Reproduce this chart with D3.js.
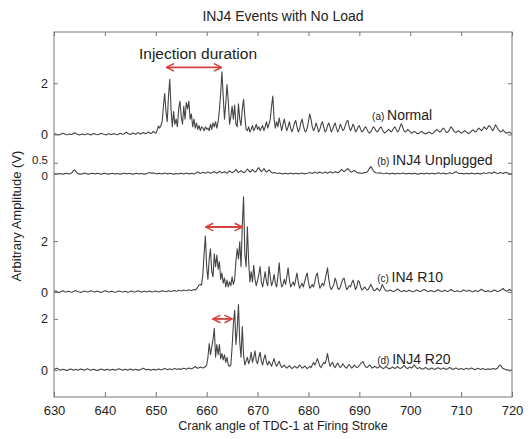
<!DOCTYPE html>
<html>
<head>
<meta charset="utf-8">
<script src="https://cdn.jsdelivr.net/npm/d3@7"></script>
<style>
  body { margin: 0; background: #fff; }
  text { font-family: "Liberation Sans", Arial, sans-serif; fill: #222; }
</style>
</head>
<body>
<script>
// sampling grid: 630..720 deg, step 0.25
const angles = d3.range(0, 361).map(i => 630 + i * 0.25);

// (a) Normal
const normal = [
  0.02,0.03,0.01,0.0,-0.02,0.0,0.03,0.05,0.03,0.01,-0.01,0.0,0.02,0.01,0.0,0.03,0.07,0.05,0.02,0.0,
  -0.02,0.0,0.02,0.01,-0.01,0.0,0.03,0.02,0.0,-0.02,0.01,0.04,0.03,0.0,-0.01,0.0,0.02,0.05,0.03,0.01,
  0.0,-0.02,0.01,0.03,0.02,0.0,0.01,0.04,0.02,0.0,-0.01,0.02,0.05,0.03,0.01,0.02,0.06,0.09,0.05,0.02,
  0.0,0.03,0.06,0.04,0.01,0.03,0.07,0.05,0.02,0.04,0.08,0.06,0.03,0.05,0.1,0.07,0.04,0.06,0.12,0.08,
  0.05,0.15,0.33,0.25,0.35,0.5,1.1,1.6,0.9,0.5,1.5,2.15,1.0,0.3,0.9,0.4,0.6,0.3,1.0,1.3,
  0.7,0.4,1.1,0.6,1.25,1.0,1.3,0.6,0.8,0.3,0.6,0.25,0.45,0.2,0.35,0.15,0.3,0.25,0.15,0.3,
  0.2,0.25,0.15,0.4,0.2,0.45,0.3,0.5,0.25,0.5,0.95,1.6,2.45,1.5,0.6,1.2,1.95,1.3,0.4,0.7,
  1.1,0.6,1.15,0.4,0.3,1.2,0.6,0.35,1.0,1.37,0.7,0.2,0.15,0.3,0.1,0.2,0.35,0.15,0.25,0.4,
  0.2,0.3,0.15,0.25,0.35,0.15,0.3,0.5,0.25,0.4,0.6,1.1,1.5,0.6,0.25,0.5,0.3,0.65,0.4,0.15,
  0.4,0.6,0.35,0.15,0.3,0.5,0.25,0.1,0.25,0.45,0.55,0.3,0.1,0.2,0.45,0.6,0.35,0.15,0.1,0.25,
  0.5,0.8,0.6,0.3,0.15,0.25,0.45,0.3,0.1,0.2,0.4,0.5,0.3,0.1,0.15,0.35,0.45,0.3,0.1,0.2,
  0.35,0.45,0.25,0.1,0.2,0.4,0.3,0.15,0.2,0.35,0.5,0.55,0.3,0.15,0.25,0.4,0.3,0.1,0.15,0.3,
  0.35,0.2,0.1,0.15,0.25,0.3,0.2,0.1,0.05,0.1,0.2,0.3,0.25,0.15,0.1,0.15,0.25,0.3,0.2,0.1,
  0.05,0.1,0.15,0.2,0.15,0.1,0.15,0.25,0.3,0.2,0.1,0.15,0.3,0.42,0.3,0.15,0.1,0.12,0.2,0.15,
  0.1,0.05,0.08,0.12,0.1,0.05,0.03,0.05,0.1,0.12,0.08,0.05,0.02,0.04,0.08,0.1,0.06,0.03,0.05,0.1,
  0.15,0.2,0.15,0.1,0.12,0.2,0.25,0.2,0.1,0.08,0.12,0.2,0.3,0.25,0.15,0.1,0.08,0.12,0.15,0.1,
  0.05,0.08,0.12,0.15,0.1,0.06,0.04,0.08,0.12,0.18,0.15,0.1,0.12,0.2,0.25,0.2,0.15,0.2,0.3,0.25,
  0.2,0.28,0.35,0.3,0.2,0.15,0.25,0.38,0.3,0.2,0.15,0.1,0.12,0.18,0.12,0.08,0.05,0.08,0.1,0.05,
  0.03
];

// (b) INJ4 Unplugged
const unplugged = [
  0.0,0.01,-0.01,0.0,0.02,0.01,0.0,-0.01,0.0,0.02,0.03,0.01,0.0,0.01,0.05,0.12,0.18,0.12,0.05,0.01,
  0.0,-0.01,0.0,0.02,0.04,0.02,0.0,-0.01,0.0,0.02,0.03,0.02,0.0,0.01,0.03,0.02,0.0,-0.01,0.0,0.02,
  0.03,0.01,0.0,-0.01,0.0,0.02,0.03,0.01,0.0,0.01,0.02,0.0,-0.01,0.0,0.02,0.04,0.02,0.0,0.01,0.03,
  0.01,0.0,-0.01,0.0,0.02,0.03,0.01,0.0,0.01,0.02,0.0,-0.01,0.0,0.02,0.04,0.06,0.04,0.02,0.05,0.03,
  0.01,0.0,0.02,0.03,0.01,0.0,0.02,0.04,0.02,0.0,0.01,0.03,0.02,0.0,-0.01,0.0,0.02,0.01,0.0,0.02,
  0.03,0.01,0.0,0.02,0.04,0.02,0.0,0.01,0.03,0.02,0.0,0.02,0.05,0.08,0.05,0.02,0.04,0.07,0.05,0.03,
  0.05,0.09,0.06,0.03,0.05,0.08,0.1,0.06,0.03,0.06,0.12,0.08,0.04,0.07,0.1,0.06,0.03,0.08,0.14,0.09,
  0.05,0.08,0.12,0.2,0.12,0.06,0.1,0.15,0.1,0.05,0.08,0.14,0.22,0.15,0.08,0.12,0.2,0.14,0.08,0.12,
  0.22,0.28,0.18,0.1,0.15,0.24,0.16,0.08,0.12,0.18,0.12,0.06,0.04,0.06,0.05,0.03,0.02,0.04,0.03,0.01,
  0.0,0.02,0.03,0.01,0.0,0.02,0.04,0.02,0.0,0.01,0.03,0.02,0.0,0.01,0.03,0.04,0.02,0.0,0.02,0.03,
  0.04,0.06,0.04,0.02,0.05,0.08,0.05,0.03,0.06,0.08,0.05,0.03,0.05,0.09,0.06,0.03,0.06,0.1,0.07,0.04,
  0.06,0.1,0.08,0.05,0.08,0.14,0.2,0.15,0.1,0.14,0.2,0.24,0.18,0.1,0.08,0.12,0.16,0.12,0.06,0.04,
  0.05,0.04,0.02,0.04,0.06,0.05,0.08,0.15,0.25,0.33,0.25,0.14,0.08,0.05,0.04,0.03,0.05,0.04,0.02,0.01,
  0.02,0.04,0.03,0.01,0.0,0.02,0.03,0.02,0.0,0.01,0.03,0.02,0.01,0.02,0.04,0.03,0.01,0.0,0.02,0.03,
  0.02,0.0,0.01,0.03,0.02,0.0,-0.01,0.0,0.02,0.03,0.01,0.0,0.02,0.04,0.02,0.0,0.01,0.03,0.02,0.0,
  0.01,0.03,0.05,0.03,0.01,0.02,0.04,0.02,0.0,0.02,0.03,0.05,0.03,0.02,0.04,0.08,0.1,0.06,0.03,0.02,
  0.03,0.02,0.0,0.01,0.03,0.02,0.0,0.02,0.04,0.03,0.01,0.0,0.02,0.03,0.02,0.0,0.01,0.03,0.05,0.03,
  0.02,0.04,0.06,0.04,0.02,0.05,0.08,0.06,0.03,0.02,0.04,0.06,0.04,0.02,0.05,0.07,0.05,0.02,0.0,0.01,
  0.0
];

// (c) IN4 R10
const r10 = [
  0.02,0.04,0.03,0.0,-0.02,0.0,0.03,0.05,0.02,0.0,0.01,0.03,0.02,0.0,-0.01,0.01,0.04,0.06,0.03,0.01,
  0.0,-0.02,0.0,0.02,0.04,0.02,0.0,0.01,0.03,0.05,0.03,0.01,0.0,0.02,0.04,0.02,0.0,-0.02,0.0,0.03,
  0.05,0.04,0.02,0.0,0.01,0.03,0.02,0.0,-0.01,0.0,0.02,0.04,0.03,0.01,0.0,0.02,0.03,0.01,-0.01,0.0,
  0.02,0.04,0.02,0.0,0.01,0.03,0.05,0.03,0.01,0.0,0.02,0.03,0.01,0.0,0.02,0.04,0.02,0.0,0.01,0.03,
  0.04,0.02,0.0,0.01,0.03,0.05,0.04,0.02,0.01,0.03,0.05,0.04,0.02,0.03,0.06,0.05,0.03,0.04,0.07,0.05,
  0.04,0.06,0.08,0.06,0.05,0.07,0.09,0.07,0.06,0.08,0.1,0.08,0.12,0.2,0.28,0.3,0.28,0.7,1.5,2.2,
  1.0,0.5,1.3,1.7,0.8,0.6,1.5,1.0,1.45,0.9,1.2,0.5,0.75,0.35,0.55,0.2,0.47,0.2,0.4,0.25,
  0.6,0.3,0.5,1.2,1.7,1.3,1.97,1.0,2.6,3.74,1.5,1.0,2.56,1.2,0.4,0.8,0.4,1.05,0.5,0.25,
  0.45,0.7,1.0,0.4,0.2,0.5,0.8,0.4,0.25,1.0,0.6,0.25,0.4,0.7,0.35,0.2,0.6,1.15,0.5,0.2,
  0.3,0.5,0.3,0.6,0.95,0.5,0.2,0.3,0.4,0.25,0.5,0.75,0.4,0.15,0.25,0.35,0.2,0.4,0.6,0.75,
  0.4,0.15,0.2,0.3,0.2,0.4,0.65,0.75,0.4,0.15,0.25,0.35,0.25,0.45,0.7,0.95,0.5,0.2,0.1,0.2,
  0.3,0.55,0.4,0.15,0.1,0.2,0.35,0.5,0.55,0.3,0.1,0.15,0.25,0.2,0.35,0.47,0.3,0.1,0.2,0.45,
  0.4,0.2,0.08,0.12,0.2,0.15,0.08,0.1,0.2,0.3,0.2,0.08,0.05,0.1,0.15,0.1,0.05,0.15,0.3,0.2,
  0.1,0.05,0.03,0.05,0.08,0.06,0.03,0.02,0.05,0.08,0.12,0.08,0.04,0.02,0.03,0.06,0.04,0.02,0.04,0.07,
  0.05,0.02,0.01,0.03,0.05,0.08,0.06,0.03,0.02,0.04,0.08,0.1,0.07,0.04,0.02,0.03,0.06,0.05,0.02,0.01,
  0.03,0.06,0.09,0.06,0.03,0.02,0.04,0.07,0.05,0.02,0.03,0.06,0.1,0.07,0.04,0.02,0.03,0.05,0.03,0.01,
  0.02,0.05,0.08,0.06,0.03,0.04,0.07,0.05,0.02,0.01,0.03,0.06,0.04,0.02,0.04,0.08,0.11,0.07,0.04,0.02,
  0.03,0.05,0.03,0.01,0.02,0.05,0.08,0.06,0.03,0.02,0.04,0.07,0.1,0.14,0.09,0.05,0.03,0.06,0.1,0.07,
  0.05
];

// (d) INJ4 R20
const r20 = [
  0.02,0.05,0.07,0.05,0.02,0.0,0.01,0.03,0.02,0.0,-0.01,0.0,0.02,0.04,0.02,0.0,0.01,0.03,0.01,0.0,
  0.02,0.04,0.03,0.01,0.0,0.02,0.05,0.03,0.01,0.0,0.01,0.03,0.02,0.0,-0.01,0.0,0.02,0.04,0.02,0.01,
  0.0,0.02,0.03,0.01,0.0,0.01,0.03,0.02,0.0,0.01,0.03,0.05,0.03,0.01,0.0,0.02,0.03,0.01,0.0,0.02,
  0.04,0.02,0.0,0.01,0.03,0.02,0.0,0.01,0.02,0.04,0.07,0.05,0.02,0.01,0.03,0.02,0.0,0.01,0.03,0.02,
  0.01,0.02,0.04,0.03,0.01,0.02,0.04,0.06,0.04,0.02,0.03,0.05,0.03,0.02,0.04,0.06,0.04,0.03,0.05,0.04,
  0.03,0.05,0.07,0.05,0.04,0.06,0.08,0.06,0.05,0.07,0.1,0.14,0.1,0.07,0.09,0.12,0.1,0.08,0.1,0.14,
  0.2,0.5,1.04,0.6,0.9,1.2,1.63,0.5,1.0,0.6,1.0,0.45,0.65,0.4,0.6,0.3,0.5,0.2,0.15,0.2,
  0.9,1.8,2.34,1.0,1.6,2.56,1.1,0.5,1.7,0.6,0.2,0.35,0.5,0.25,0.4,0.7,0.3,0.5,0.75,0.35,
  0.25,0.5,0.7,0.35,0.2,0.45,0.6,0.3,0.2,0.35,0.25,0.15,0.3,0.45,0.25,0.15,0.25,0.35,0.2,0.1,
  0.15,0.2,0.12,0.08,0.12,0.18,0.12,0.06,0.1,0.15,0.12,0.08,0.12,0.2,0.15,0.08,0.1,0.16,0.12,0.06,
  0.1,0.15,0.1,0.2,0.3,0.2,0.3,0.45,0.3,0.15,0.1,0.2,0.3,0.25,0.4,0.65,0.35,0.15,0.25,0.3,
  0.15,0.1,0.2,0.28,0.18,0.1,0.15,0.25,0.18,0.1,0.08,0.15,0.22,0.15,0.08,0.12,0.2,0.15,0.1,0.12,
  0.18,0.25,0.3,0.33,0.2,0.12,0.1,0.15,0.2,0.15,0.08,0.1,0.15,0.12,0.08,0.1,0.16,0.12,0.08,0.06,
  0.1,0.14,0.1,0.06,0.05,0.08,0.12,0.09,0.06,0.1,0.14,0.1,0.06,0.08,0.12,0.18,0.14,0.08,0.06,0.1,
  0.12,0.08,0.12,0.2,0.15,0.08,0.06,0.1,0.08,0.05,0.04,0.07,0.1,0.07,0.04,0.03,0.06,0.08,0.05,0.03,
  0.04,0.07,0.09,0.06,0.03,0.05,0.08,0.06,0.03,0.04,0.07,0.1,0.07,0.04,0.03,0.06,0.08,0.05,0.03,0.04,
  0.06,0.04,0.02,0.04,0.07,0.05,0.03,0.05,0.08,0.06,0.03,0.02,0.04,0.07,0.05,0.03,0.04,0.06,0.04,0.02,
  0.03,0.05,0.04,0.02,0.04,0.06,0.05,0.03,0.05,0.1,0.18,0.2,0.12,0.06,0.04,0.02,0.01,0.0,-0.02,0.0,
  -0.01
];

const xTicks = [630, 640, 650, 660, 670, 680, 690, 700, 710, 720];

// stacked sub-axes sharing one frame
const panels = [
  { series: normal,    domain: [-0.8, 4.0],  band: [32, 155],  ticks: [0, 2],   tag: "(a)", name: "Normal",         at: [692.5, 0.58],
    arrow: [652.1, 662.9, 2.62] },
  { series: unplugged, domain: [-0.5, 0.85], band: [155, 185], ticks: [0, 0.5], tag: "(b)", name: "INJ4 Unplugged", at: [693.5, 0.4] },
  { series: r10,       domain: [-0.35, 4.2], band: [185, 301], ticks: [0, 2],   tag: "(c)", name: "IN4 R10",        at: [693.5, 0.4],
    arrow: [659.8, 667.0, 2.55] },
  { series: r20,       domain: [-1.05, 2.7], band: [301, 397], ticks: [0, 2],   tag: "(d)", name: "INJ4 R20",       at: [693.5, 0.23],
    arrow: [661.2, 665.0, 2.0] }
];

const width = 531, height = 439;
const margin = { top: 32, right: 19, bottom: 42, left: 54 };
const iw = width - margin.left - margin.right;

const svg = d3.select("body").append("svg")
  .attr("width", width)
  .attr("height", height);

const x = d3.scaleLinear().domain([630, 720]).range([margin.left, margin.left + iw]);

// arrow heads
svg.append("defs").append("marker")
  .attr("id", "head")
  .attr("viewBox", "0 0 10 10")
  .attr("refX", 9).attr("refY", 5)
  .attr("markerWidth", 5).attr("markerHeight", 5)
  .attr("orient", "auto-start-reverse")
  .attr("markerUnits", "strokeWidth")
  .append("path")
    .attr("d", "M1,1 L9,5 L1,9")
    .attr("fill", "none")
    .attr("stroke", "#d6423c")
    .attr("stroke-width", 1.6);

panels.forEach(p => {
  const y = d3.scaleLinear().domain(p.domain).range([p.band[1], p.band[0]]);
  const pts = angles.map((a, i) => [a, p.series[i]]).filter(d => d[1] !== undefined);

  svg.append("path")
    .datum(pts)
    .attr("fill", "none")
    .attr("stroke", "#454545")
    .attr("stroke-width", 1.1)
    .attr("stroke-linejoin", "round")
    .attr("d", d3.line().x(d => x(d[0])).y(d => y(d[1])));

  const tight = p.ticks.includes(0.5);
  const leftAxis = svg.append("g")
    .attr("transform", `translate(${margin.left},0)`)
    .call(d3.axisLeft(y).tickValues(p.ticks).tickSizeInner(-4).tickSizeOuter(0).tickPadding(6)
      .tickFormat(d3.format("~g")));
  leftAxis.select(".domain").remove();
  leftAxis.selectAll("line").attr("stroke", "#777");
  leftAxis.selectAll("text")
    .attr("font-size", tight ? 11.5 : 12.5)
    .attr("fill", "#222")
    .style("font-family", "Liberation Sans, Arial, sans-serif");
  if (tight) {
    leftAxis.selectAll("text").attr("dy", d => d > 0 ? "0.05em" : "0.5em");
  }

  const rightAxis = svg.append("g")
    .attr("transform", `translate(${margin.left + iw},0)`)
    .call(d3.axisRight(y).tickValues(p.ticks).tickSizeInner(-4).tickSizeOuter(0).tickFormat(""));
  rightAxis.select(".domain").remove();
  rightAxis.selectAll("line").attr("stroke", "#777");

  const lab = svg.append("text")
    .attr("x", x(p.at[0]))
    .attr("y", y(p.at[1]));
  lab.append("tspan").attr("font-size", 10).text(p.tag + " ");
  lab.append("tspan").attr("font-size", 14).text(p.name);

  if (p.arrow) {
    svg.append("line")
      .attr("x1", x(p.arrow[0])).attr("x2", x(p.arrow[1]))
      .attr("y1", y(p.arrow[2])).attr("y2", y(p.arrow[2]))
      .attr("stroke", "#d6423c")
      .attr("stroke-width", 1.9)
      .attr("marker-start", "url(#head)")
      .attr("marker-end", "url(#head)");
  }

  if (p.name === "Normal") {
    svg.append("text")
      .attr("x", x(658.3))
      .attr("y", y(2.93))
      .attr("text-anchor", "middle")
      .attr("font-size", 15.5)
      .text("Injection duration");
  }
});

// frame
svg.append("rect")
  .attr("x", margin.left).attr("y", margin.top)
  .attr("width", iw).attr("height", height - margin.top - margin.bottom)
  .attr("fill", "none")
  .attr("stroke", "#777")
  .attr("stroke-width", 1);

const bottomAxis = svg.append("g")
  .attr("transform", `translate(0,${height - margin.bottom})`)
  .call(d3.axisBottom(x).tickValues(xTicks).tickSizeInner(-5).tickSizeOuter(0).tickPadding(9));
bottomAxis.select(".domain").remove();
bottomAxis.selectAll("line").attr("stroke", "#777");
bottomAxis.selectAll("text").attr("font-size", 13).attr("fill", "#222").style("font-family", "Liberation Sans, Arial, sans-serif");

const topAxis = svg.append("g")
  .attr("transform", `translate(0,${margin.top})`)
  .call(d3.axisTop(x).tickValues(xTicks).tickSizeInner(-4).tickSizeOuter(0).tickFormat(""));
topAxis.select(".domain").remove();
topAxis.selectAll("line").attr("stroke", "#777");

svg.append("text")
  .attr("x", x(675))
  .attr("y", 21)
  .attr("text-anchor", "middle")
  .attr("font-size", 14)
  .attr("fill", "#333")
  .text("INJ4 Events with No Load");

svg.append("text")
  .attr("x", x(675))
  .attr("y", 430)
  .attr("text-anchor", "middle")
  .attr("font-size", 12.5)
  .text("Crank angle of TDC-1 at Firing Stroke");

svg.append("text")
  .attr("transform", `translate(21,216) rotate(-90)`)
  .attr("text-anchor", "middle")
  .attr("font-size", 13)
  .text("Arbitrary Amplitude (V)");
</script>
</body>
</html>
